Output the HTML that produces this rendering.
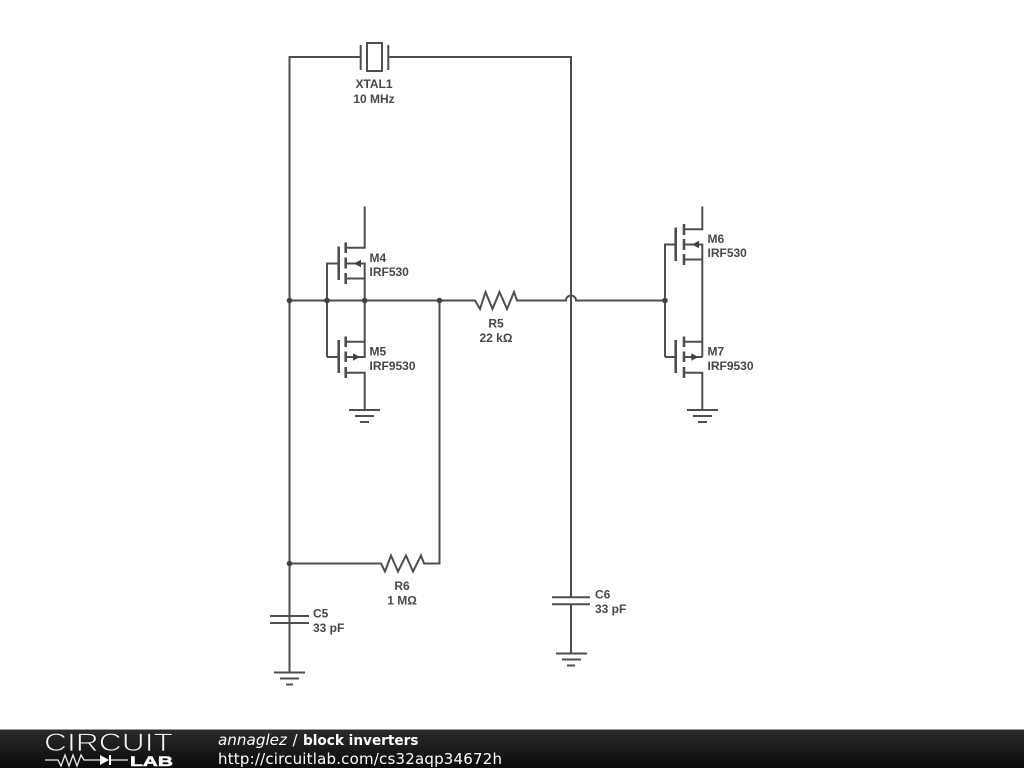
<!DOCTYPE html>
<html><head><meta charset="utf-8"><style>
html,body{margin:0;padding:0;background:#fff;width:1024px;height:768px;overflow:hidden}
svg{display:block}
.l{font:bold 12px "Liberation Sans",sans-serif;fill:#43494b}
.w{fill:none;stroke:#4a5052;stroke-width:2}
.p{fill:none;stroke:#4a5052;stroke-width:2.6}
.d{fill:#3c4244}
.s{filter:blur(0.3px)}
</style></head><body>
<svg width="1024" height="768" viewBox="0 0 1024 768" xmlns="http://www.w3.org/2000/svg">
<defs><linearGradient id="g" x1="0" y1="0" x2="0" y2="1"><stop offset="0" stop-color="#2c2c2c"/><stop offset="1" stop-color="#0a0a0a"/></linearGradient></defs>
<rect width="1024" height="768" fill="#fff"/>
<g class="s">
<!-- main wires -->
<path class="w" d="M360 57H289.5V672.5M388 57H571V288"/>
<path class="w" d="M571 288V597M571 604V653.5"/>
<path class="w" d="M289.5 300.5H475L480 309 485.5 292 492.5 309 499.5 292 507 309 514 292 517 300.5H566A5 5 0 0 1 576 300.5H665"/>
<path class="w" d="M289.5 563.5H381L385 571.5 391 555.5 398 571.5 406 555.5 413 571.5 421 555.5 424 563.5H439.5V300.5"/>
<!-- crystal -->
<path class="w" d="M360.7 45V70M388.3 45V70"/>
<rect class="w" x="367" y="43" width="15" height="28"/>
<!-- M4 / M5 -->
<path class="w" d="M327 357V263.5H339M364.7 206.5V247.8H346M346 263.5H364.7V341.7H346M346 278.5H364.7M327 357H339M346 357H364.7V341.7M346 372.7H364.7V410"/>
<path class="p" d="M338.7 246.5V280M345.7 242.5V253M345.7 257.5V268.5M345.7 273V284M338.7 340V373M345.7 336.5V347M345.700 351.5V362M345.7 367V378"/>
<path class="d" d="M361 259.8V267.2L354 263.5ZM353 353.3V360.7L360 357Z"/>
<!-- M6 / M7 -->
<path class="w" d="M665 357V244.5H676M702.3 206.5V229.3H684M684 244.5H702.3V357M684 259.5H702.3M665 357H676M684 341.7H702.3M684 357H702.3M684 372.7H702.3V410"/>
<path class="p" d="M675.7 227.5V261M684 224V235M684 239V250M684 254V265M675.7 340V373M684 336.5V347M684 351.5V362M684 367V378"/>
<path class="d" d="M699 240.8V248.2L692 244.5ZM691.3 353.3V360.7L698.300 357Z"/>
<!-- caps -->
<path class="w" d="M270 616H309M270 623H309M552 597.3H590M552 604.3H590"/>
<!-- grounds -->
<path class="w" d="M349 410H380M355 416H374M360 422H369M687 410H718M693 416H712M698 422H707M274 672.5H305M280 678.5H299M286 684.5H293M556 653.5H587M562 659.5H581M567 665.5H575"/>
<!-- junctions -->
<circle class="d" cx="289.5" cy="300.5" r="2.8"/><circle class="d" cx="327" cy="300.5" r="2.8"/><circle class="d" cx="364.7" cy="300.5" r="2.8"/><circle class="d" cx="439.5" cy="300.5" r="2.8"/><circle class="d" cx="665" cy="300.5" r="2.8"/><circle class="d" cx="289.5" cy="563.5" r="2.8"/>
<!-- labels -->
<text class="l" x="374" y="88" text-anchor="middle">XTAL1</text>
<text class="l" x="374" y="103" text-anchor="middle">10 MHz</text>
<text class="l" x="369.5" y="262">M4</text><text class="l" x="369.5" y="276">IRF530</text>
<text class="l" x="369.5" y="355.5">M5</text><text class="l" x="369.5" y="370">IRF9530</text>
<text class="l" x="707.5" y="243">M6</text><text class="l" x="707.5" y="257">IRF530</text>
<text class="l" x="707.5" y="355.5">M7</text><text class="l" x="707.5" y="370">IRF9530</text>
<text class="l" x="496" y="327.5" text-anchor="middle">R5</text><text class="l" x="496" y="342" text-anchor="middle">22 kΩ</text>
<text class="l" x="402" y="590" text-anchor="middle">R6</text><text class="l" x="402" y="604.5" text-anchor="middle">1 MΩ</text>
<text class="l" x="313" y="617.5">C5</text><text class="l" x="313" y="632">33 pF</text>
<text class="l" x="595" y="598.5">C6</text><text class="l" x="595" y="613">33 pF</text>
</g>
<!-- footer -->
<rect x="0" y="729" width="1024" height="39" fill="url(#g)"/>
<rect x="0" y="729" width="1024" height="1" fill="#9a9a9a"/>
<text x="44" y="751" font-family="Liberation Sans,sans-serif" font-size="25" fill="#f4f4f4" stroke="#1c1c1c" stroke-width="0.8" textLength="129" lengthAdjust="spacingAndGlyphs">CIRCUIT</text>
<path fill="none" stroke="#eee" stroke-width="1.3" d="M45 760H58L61 766 65 755 69 766 73 755 77 766 81 755 84 760H100M110 760H128"/>
<path fill="#fff" d="M100 755V765L109 760Z"/><rect x="109" y="755" width="2" height="10" fill="#fff"/>
<text x="130" y="766" font-family="Liberation Sans,sans-serif" font-weight="bold" font-size="14" fill="#fff" stroke="#fff" stroke-width="0.5" textLength="43" lengthAdjust="spacingAndGlyphs">LAB</text>
<text x="218" y="745" font-family="DejaVu Sans,sans-serif" font-size="15" font-style="italic" fill="#fff" textLength="69" lengthAdjust="spacingAndGlyphs">annaglez</text>
<text x="292.5" y="745" font-family="DejaVu Sans,sans-serif" font-size="15" fill="#fff">/</text>
<text x="303" y="745" font-family="DejaVu Sans,sans-serif" font-size="14" font-weight="bold" fill="#fff" textLength="115.5" lengthAdjust="spacingAndGlyphs">block inverters</text>
<text x="218" y="764" font-family="DejaVu Sans,sans-serif" font-size="15" fill="#fff" textLength="284" lengthAdjust="spacing">http://circuitlab.com/cs32aqp34672h</text>
</svg>
</body></html>
